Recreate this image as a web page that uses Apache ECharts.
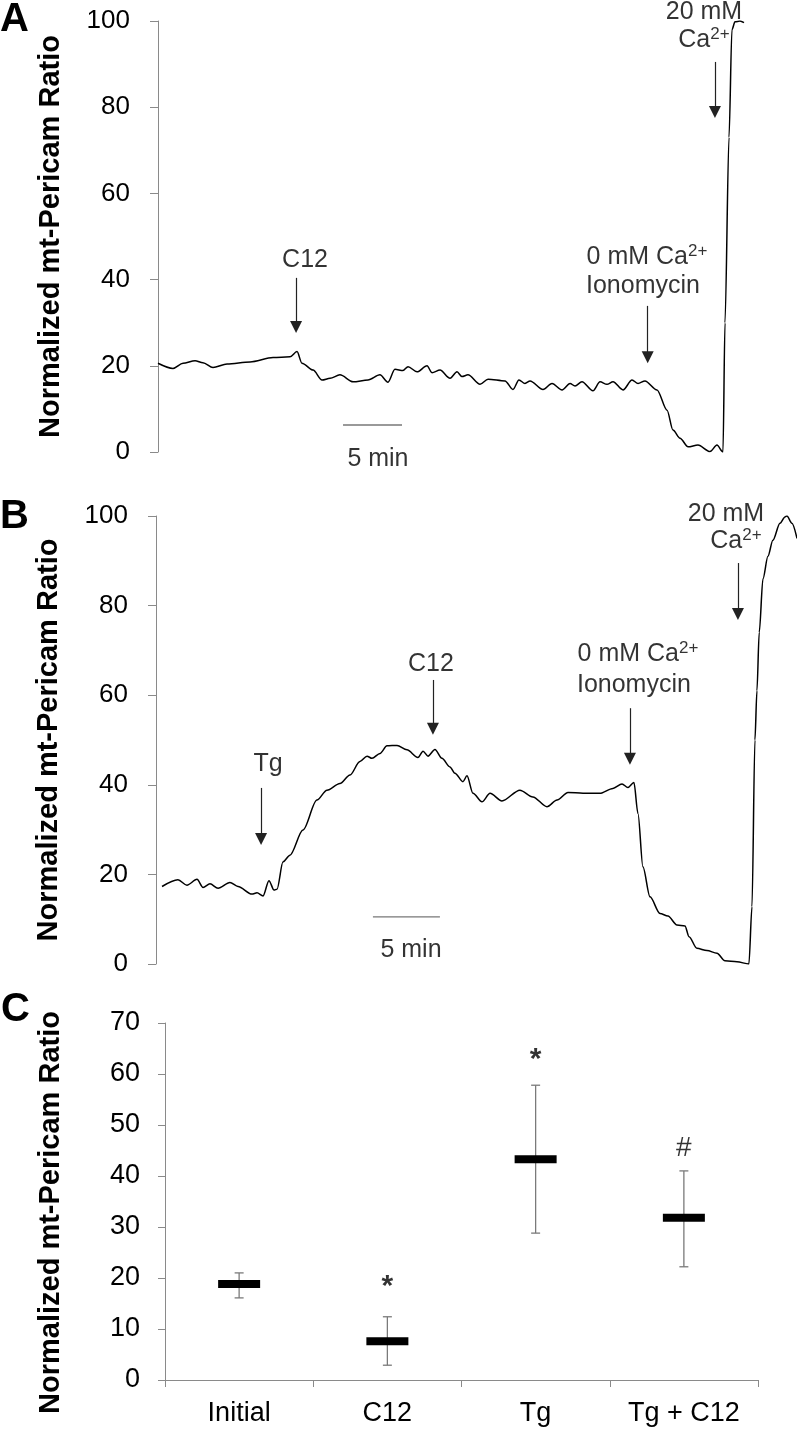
<!DOCTYPE html>
<html><head><meta charset="utf-8">
<script src="https://cdn.jsdelivr.net/npm/echarts@6/dist/echarts.min.js"></script>
<style>html,body{margin:0;padding:0;background:#fff}#c{width:797px;height:1430px}</style>
</head><body><div id="c"></div>
<script>
// ---------- DATA ----------
// Panel A trace: [time (min), normalized ratio]
const traceA = [
 [0.0,20.6],[1.27,19.4],[2.12,20.6],[3.14,21.2],[3.81,20.7],[4.66,19.6],[5.85,20.4],[7.80,20.9],
 [9.75,21.9],[11.19,22.1],[11.78,23.3],[12.20,20.6],[13.14,19.0],[13.90,16.7],[14.58,17.1],[15.42,17.9],
 [16.53,16.3],[17.80,16.7],[18.81,17.9],[19.49,16.2],[20.08,19.2],[20.76,18.9],[21.19,19.8],[21.95,18.6],
 [22.80,20.0],[23.22,18.4],[23.90,19.0],[24.75,17.1],[25.34,18.6],[25.76,17.5],[26.27,17.9],[27.29,15.7],
 [27.97,16.9],[29.41,16.5],[30.08,14.5],[30.59,16.7],[31.10,15.9],[31.53,16.5],[32.63,14.5],[33.39,15.9],
 [34.24,14.4],[34.92,15.9],[35.34,15.3],[35.93,16.3],[36.86,14.2],[37.46,16.3],[38.05,15.7],[38.56,16.3],
 [39.41,14.4],[40.17,16.7],[40.68,15.9],[41.27,16.5],[42.29,14.4],[43.14,9.7],[43.64,5.1],[44.24,3.2],
 [44.92,1.2],[45.76,1.6],[46.78,0.1],[47.37,1.6],[47.88,0.0],[48.05,30],[48.39,73],[48.64,98],
 [48.90,99.8],[49.32,100],[49.66,99.6]
];
// Panel B trace
const traceB = [
 [0.45,17.3],[1.64,18.8],[2.31,17.6],[3.06,18.9],[3.51,17.1],[4.03,17.9],[4.63,16.9],[5.52,18.2],
 [6.12,17.3],[7.16,15.6],[7.54,15.9],[7.99,15.2],[8.43,18.6],[8.81,16.5],[9.03,16.7],[9.48,22.8],
 [10.0,24.3],[10.97,29.9],[12.01,36.6],[12.76,38.8],[13.73,40.3],[14.48,42.2],[15.22,45.2],[15.75,46.4],
 [16.12,45.9],[16.72,47.0],[17.24,48.7],[17.99,48.8],[18.73,47.8],[19.55,46.1],[19.93,47.5],[20.30,46.4],
 [20.82,47.9],[21.34,45.9],[21.94,44.0],[22.31,42.6],[22.91,40.7],[23.21,42.0],[23.66,38.1],[24.33,36.2],
 [24.93,38.1],[25.82,36.4],[27.16,38.8],[28.13,37.3],[29.18,35.1],[29.93,36.6],[30.75,38.3],[31.87,38.1],
 [33.13,38.1],[34.10,39.2],[34.78,40.2],[35.22,39.4],[35.67,40.5],[35.97,33.6],[36.34,21.7],[36.87,15.0],
 [37.61,11.3],[38.21,10.7],[38.88,8.7],[39.48,8.5],[39.78,6.1],[40.37,3.5],[41.12,3.0],[41.87,2.4],
 [42.46,0.7],[43.36,0.5],[44.25,0.0],[44.48,12.8],[44.70,50],[44.85,61],[45.02,74],[45.30,86],
 [45.67,91],[46.04,94.6],[46.57,98.4],[46.94,99.8],[47.09,100],[47.46,98.4],[47.84,95]
];
// Arrows: [time, start value, head value]
const arrowsA = [[11.7,40.4,29.0],[41.5,33.9,22.0],[47.2,90.5,78.9]];
const arrowsB = [[7.84,39.3,27.9],[20.67,63.4,52.5],[35.37,57.1,45.8],[43.43,89.5,78.1]];
// Annotation texts: [time, value, text]
const textsA = [
 [12.46,44.5,'C12'],
 [41.44,45.2,'{a|0 mM Ca}{s|2+}'],[41.1,38.5,'{a|Ionomycin}'],
 [46.27,102.1,'{a|20 mM}'],[46.27,95.6,'{a|Ca}{s|2+}'],
 [18.64,-1.6,'5 min']
];
const textsB = [
 [8.36,44.6,'Tg'],[20.52,67.0,'C12'],
 [35.97,69.2,'{a|0 mM Ca}{s|2+}'],[35.67,62.3,'{a|Ionomycin}'],
 [42.54,100.4,'{a|20 mM}'],[43.28,94.4,'{a|Ca}{s|2+}'],
 [19.03,3.1,'5 min']
];
// Scale bars (5 min)
const scaleA = [[15.68,6.26],[20.68,6.26]];
const scaleB = [[16.19,10.5],[21.19,10.5]];
// Panel C
const categories = ['Initial','C12','Tg','Tg + C12'];
const means = [18.8, 7.6, 43.3, 31.8];
const upper = [21.0, 12.4, 57.8, 41.0];
const lower = [16.1, 2.9, 28.8, 22.2];
const marksC = [[1,18.3,'*'],[2,62.8,'*'],[3,45.4,'#']];

// ---------- CHART ----------
const FONT = "'Liberation Sans', Arial, Helvetica, sans-serif";
const chart = echarts.init(document.getElementById('c'), null, {renderer:'canvas'});
const axisGray = '#8a8a8a';
const yName = 'Normalized mt-Pericam Ratio';
const rich = {
  a:{fontSize:25, fontFamily:FONT, color:'#000', lineHeight:29},
  s:{fontSize:17, fontFamily:FONT, color:'#000', verticalAlign:'top', lineHeight:17}
};
function yAxisAB(idx){
  return {gridIndex:idx, type:'value', min:0, max:100, interval:20,
    name:yName, nameLocation:'middle', nameRotate:90, nameGap:93,
    nameTextStyle:{fontSize:29, fontWeight:'bold', fontFamily:FONT, color:'#000'},
    axisLine:{show:true, lineStyle:{color:axisGray, width:1}},
    axisTick:{show:true, length:8, lineStyle:{color:axisGray}},
    axisLabel:{fontSize:26, fontFamily:FONT, color:'#000', margin:28},
    splitLine:{show:false}};
}
function arrowSeries(arr, idx){
  return {type:'line', xAxisIndex:idx, yAxisIndex:idx, data:[], silent:true,
    markLine:{silent:true, animation:false, symbol:['none','triangle'], symbolSize:[12,12],
      label:{show:false}, lineStyle:{color:'#222', width:1.2, type:'solid'},
      emphasis:{disabled:true},
      data: arr.map(a => [{coord:[a[0],a[1]]},{coord:[a[0],a[2]]}])}};
}
function textSeries(arr, idx){
  return {type:'scatter', xAxisIndex:idx, yAxisIndex:idx, clip:false, silent:true,
    symbolSize:1, itemStyle:{color:'rgba(0,0,0,0)'},
    data: arr.map(a => ({value:[a[0],a[1]], name:a[2]})),
    label:{show:true, position:'inside', formatter:p=>p.name, fontSize:25, fontFamily:FONT, color:'#000', rich:rich}};
}
const option = {
  animation:false,
  backgroundColor:'#fff',
  textStyle:{fontFamily:FONT},
  grid:[
    {left:158, top:21, width:590, height:431},
    {left:156, top:516, width:641, height:448},
    {left:165, top:1023, width:593, height:357}
  ],
  xAxis:[
    {gridIndex:0, type:'value', min:0, max:50, show:false},
    {gridIndex:1, type:'value', min:0, max:47.84, show:false},
    {gridIndex:2, type:'category', data:categories, boundaryGap:true,
      axisLine:{show:true, lineStyle:{color:axisGray}},
      axisTick:{show:true, length:7, alignWithLabel:false, lineStyle:{color:axisGray}},
      axisLabel:{fontSize:27, fontFamily:FONT, color:'#000', margin:20}}
  ],
  yAxis:[
    yAxisAB(0), yAxisAB(1),
    {gridIndex:2, type:'value', min:0, max:70, interval:10,
      name:yName, nameLocation:'middle', nameRotate:90, nameGap:100,
      nameTextStyle:{fontSize:29, fontWeight:'bold', fontFamily:FONT, color:'#000', padding:[0,22,0,0]},
      axisLine:{show:true, lineStyle:{color:axisGray}},
      axisTick:{show:true, length:7, lineStyle:{color:axisGray}},
      axisLabel:{fontSize:27, fontFamily:FONT, color:'#000', margin:25},
      splitLine:{show:false}}
  ],
  graphic:[
    {type:'text', left:0, top:0, style:{text:'A', fontSize:40, fontWeight:'bold', fontFamily:FONT, fill:'#000'}},
    {type:'text', left:0, top:497, style:{text:'B', fontSize:40, fontWeight:'bold', fontFamily:FONT, fill:'#000'}},
    {type:'text', left:1, top:990, style:{text:'C', fontSize:40, fontWeight:'bold', fontFamily:FONT, fill:'#000'}}
  ],
  series:[
    {type:'line', xAxisIndex:0, yAxisIndex:0, data:traceA, showSymbol:false, smooth:0.3, smoothMonotone:'x',
      lineStyle:{color:'#000', width:1.5}, silent:true},
    {type:'line', xAxisIndex:1, yAxisIndex:1, data:traceB, showSymbol:false, smooth:0.3, smoothMonotone:'x',
      lineStyle:{color:'#000', width:1.5}, silent:true},
    {type:'line', xAxisIndex:0, yAxisIndex:0, data:scaleA, showSymbol:false, lineStyle:{color:'#777', width:1.3}, silent:true},
    {type:'line', xAxisIndex:1, yAxisIndex:1, data:scaleB, showSymbol:false, lineStyle:{color:'#777', width:1.3}, silent:true},
    arrowSeries(arrowsA,0), arrowSeries(arrowsB,1),
    textSeries(textsA,0), textSeries(textsB,1),
    {type:'custom', xAxisIndex:2, yAxisIndex:2, silent:true,
      data: categories.map((c,i)=>[i, means[i], upper[i], lower[i]]),
      renderItem:function(params, api){
        const m = api.coord([api.value(0), api.value(1)]);
        const t = api.coord([api.value(0), api.value(2)]);
        const b = api.coord([api.value(0), api.value(3)]);
        const x = m[0];
        const ls = {stroke:'#7a7a7a', lineWidth:1.3};
        return {type:'group', children:[
          {type:'line', shape:{x1:x, y1:t[1], x2:x, y2:b[1]}, style:ls},
          {type:'line', shape:{x1:x-4.5, y1:t[1], x2:x+4.5, y2:t[1]}, style:ls},
          {type:'line', shape:{x1:x-4.5, y1:b[1], x2:x+4.5, y2:b[1]}, style:ls},
          {type:'rect', shape:{x:x-21, y:m[1]-4, width:42, height:8}, style:{fill:'#000'}}
        ]};
      }},
    {type:'scatter', xAxisIndex:2, yAxisIndex:2, clip:false, silent:true, symbolSize:1,
      itemStyle:{color:'rgba(0,0,0,0)'},
      data: marksC.map(a=>({value:[a[0],a[1]], name:a[2]})),
      label:{show:true, position:'inside', formatter:p=>p.name, fontSize:28, fontFamily:FONT, color:'#000'}}
  ]
};
// bold asterisks
option.series[option.series.length-1].data.forEach(d=>{ if(d.name==='*') d.label={fontWeight:'bold', fontSize:30}; });
chart.setOption(option);
</script></body></html>
